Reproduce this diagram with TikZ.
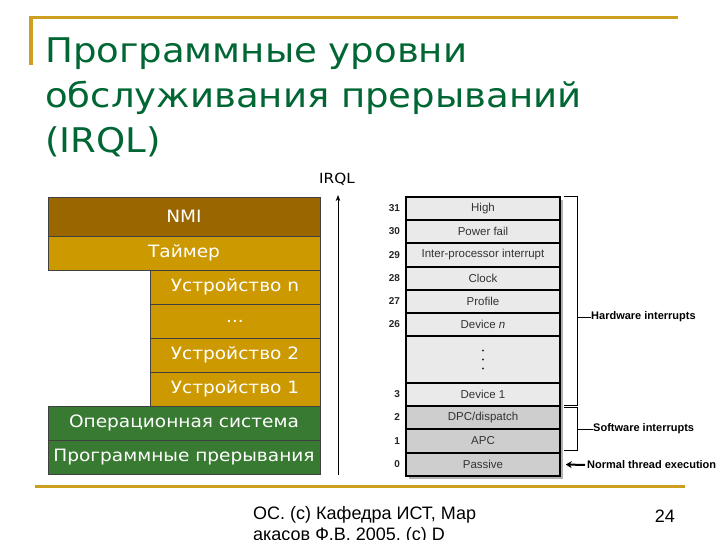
\documentclass[tikz,border=0pt]{standalone}
\usepackage{fontspec}
\setmainfont{DejaVu Sans}
\newfontfamily\slidefont[FakeStretch=1.09]{DejaVu Sans}
\newfontfamily\arialfont{Liberation Sans}
\usetikzlibrary{arrows.meta, positioning}
\definecolor{slidegreen}{RGB}{0,102,51}
\definecolor{slidegold}{RGB}{204,160,30}
\definecolor{nmibrown}{RGB}{153,102,0}
\definecolor{lvlgold}{RGB}{204,153,0}
\definecolor{lvlgreen}{RGB}{56,122,50}
\definecolor{hwgray}{RGB}{234,234,234}
\definecolor{swgray}{RGB}{206,206,206}

\begin{document}
\begin{tikzpicture}[x=1pt, y=-1pt,
  lvl/.style={rectangle, draw=black!75, line width=0.7pt, text=white,
              inner sep=0pt, font=\slidefont\fontsize{17}{20}\selectfont},
  row/.style={rectangle, draw=black, line width=1.5pt, fill=hwgray,
              minimum width=154pt, minimum height=23.3pt, inner sep=0pt,
              text=black!80, font=\arialfont\fontsize{11.5}{13}\selectfont},
  num/.style={anchor=east, inner sep=0pt, text=black!85,
              font=\arialfont\bfseries\fontsize{10}{12}\selectfont},
  brk/.style={line width=0.8pt, black},
  brlbl/.style={anchor=west, inner sep=0pt,
                font=\arialfont\bfseries\fontsize{11}{13}\selectfont},
  arr/.style={-Stealth, line width=0.7pt}
]
  \useasboundingbox (0,0) rectangle (720,540);

  %% --- Slide frame and title ---
  \draw[slidegold, line width=3pt] (29,18) -- (678,18);
  \draw[slidegold, line width=3.5pt] (31,18) -- (31,65);
  \draw[slidegold, line width=3pt] (35,486) -- (685,486);
  \node[anchor=north west, inner sep=0pt, align=left, text=slidegreen,
        font=\slidefont\fontsize{34}{45}\selectfont]
    (title) at (45,38) {Программные уровни\\обслуживания прерываний\\(IRQL)};

  %% --- Left: level stack ---
  \node[lvl, fill=nmibrown, minimum width=272pt, minimum height=39pt]
    (nmi) at (184,216.5) {NMI};
  \node[lvl, fill=lvlgold, minimum width=272pt, minimum height=34pt]
    (timer) at (184,253) {Таймер};
  \node[lvl, fill=lvlgold, minimum width=170pt, minimum height=34pt]
    (devn) at (235,287) {Устройство n};
  \node[lvl, fill=lvlgold, minimum width=170pt, minimum height=34pt]
    (devdots) at (235,321) {...};
  \node[lvl, fill=lvlgold, minimum width=170pt, minimum height=34pt]
    (devtwo) at (235,355) {Устройство 2};
  \node[lvl, fill=lvlgold, minimum width=170pt, minimum height=34pt]
    (devone) at (235,389) {Устройство 1};
  \node[lvl, fill=lvlgreen, minimum width=272pt, minimum height=34pt]
    (os) at (184,423) {Операционная система};
  \node[lvl, fill=lvlgreen, minimum width=272pt, minimum height=34pt]
    (softirq) at (184,457) {Программные прерывания};

  %% --- IRQL axis ---
  \coordinate (axfoot) at (338,475);
  \coordinate (axtip)  at (338,195);
  \draw[arr] (axfoot) -- (axtip);
  \node[font=\slidefont\fontsize{14}{17}\selectfont, inner sep=0pt]
    (irql) at (337,179) {IRQL};

  %% --- Right: IRQL table ---
  \fill[black!30] (409,200) rectangle (563,479);
  \node[row] (high)   at (483,208.5) {High};
  \node[row] (pwr)    at (483,231.5) {Power fail};
  \node[row] (ipi)    at (483,255)   {Inter-processor interrupt};
  \node[row] (clock)  at (483,278.5) {Clock};
  \node[row] (prof)   at (483,301.5) {Profile};
  \node[row] (hwn)    at (483,324.5) {Device \textit{n}};
  \node[row, minimum height=47pt] (hwdots) at (483,359.5) {};
  \node[row] (hwone)  at (483,394.5) {Device 1};
  \node[row, fill=swgray] (dpc)  at (483,417.5) {DPC/dispatch};
  \node[row, fill=swgray] (apc)  at (483,441)   {APC};
  \node[row, fill=swgray] (pass) at (483,464.5) {Passive};
  %% vertical ellipsis in the gap row
  \fill[black!80] ([yshift=-9pt]hwdots.center) circle (1.1pt)
                  (hwdots.center) circle (1.1pt)
                  ([yshift=9pt]hwdots.center) circle (1.1pt);

  %% --- Level numbers ---
  \node[num, left=5pt of high]  (n31) {31};
  \node[num, left=5pt of pwr]   (n30) {30};
  \node[num, left=5pt of ipi]   (n29) {29};
  \node[num, left=5pt of clock] (n28) {28};
  \node[num, left=5pt of prof]  (n27) {27};
  \node[num, left=5pt of hwn]   (n26) {26};
  \node[num, left=5pt of hwone] (n3)  {3};
  \node[num, left=5pt of dpc]   (n2)  {2};
  \node[num, left=5pt of apc]   (n1)  {1};
  \node[num, left=5pt of pass]  (n0)  {0};

  %% --- Brackets ---
  \draw[brk] ([xshift=3pt]high.north east) -- ++(14,0)
    |- ([shift={(3,-2)}]hwone.south east);
  \draw[brk] ([shift={(3,2)}]dpc.north east) -- ++(14,0)
    |- ([shift={(3,-3)}]apc.south east);
  \node[brlbl] (hwlbl) at (591,317) {Hardware interrupts};
  \node[brlbl] (swlbl) at (593,429) {Software interrupts};
  \coordinate (hwmid) at (577,317);
  \coordinate (swmid) at (577,429);
  \draw[brk] (hwmid) -- (hwlbl.west);
  \draw[brk] (swmid) -- (swlbl.west);

  %% --- Normal thread execution ---
  \node[brlbl] (normal) at (587,465) {Normal thread execution};
  \draw[-{Stealth[length=6pt, width=7pt]}, line width=2pt]
    ([xshift=-2pt]normal.west) -- ([xshift=5pt]pass.east);

  %% --- Footer ---
  \node[anchor=north west, inner sep=0pt, align=left,
        font=\arialfont\fontsize{18}{21}\selectfont]
    (foot) at (253,506) {ОС. (с) Кафедра ИСТ, Мар\\акасов Ф.В. 2005, (с) D};
  \node[anchor=base east, inner sep=0pt, font=\arialfont\fontsize{18}{21}\selectfont]
    (page) at (675,522) {24};
\end{tikzpicture}
\end{document}
